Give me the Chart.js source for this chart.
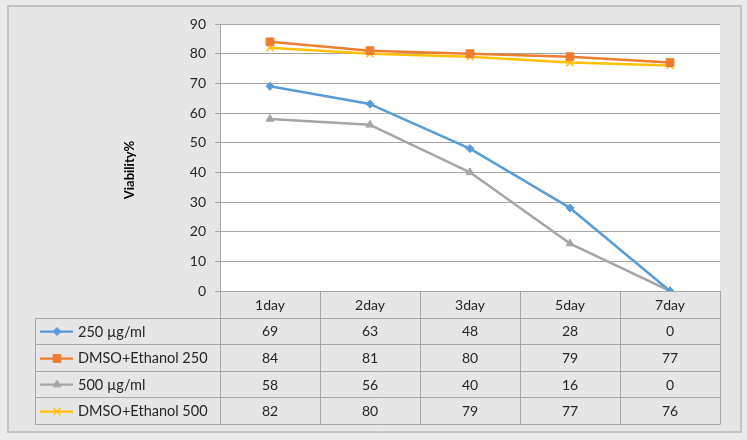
<!DOCTYPE html>
<html>
<head>
<meta charset="utf-8">
<script src="https://cdn.jsdelivr.net/npm/chart.js@4/dist/chart.umd.min.js"></script>
<style>
  html, body { margin: 0; padding: 0; background: #ebebeb; }
  #frame {
    position: absolute; left: 7px; top: 5px; width: 731px; height: 424px;
    background: #e6e6e6; border: 2px solid #c4c4c4;
  }
  #wrap { position: absolute; left: 0; top: 0; width: 747px; height: 440px; }
</style>
</head>
<body>
<div id="frame"></div>
<div id="wrap"><canvas id="viabilityChart" width="747" height="440"></canvas></div>
<script>
// categories + series
const days = ["1day", "2day", "3day", "5day", "7day"];
const seriesNames = ["250 µg/ml", "DMSO+Ethanol 250", "500 µg/ml", "DMSO+Ethanol 500"];
const conc250 = [69, 63, 48, 28, 0];
const dmso250 = [84, 81, 80, 79, 77];
const conc500 = [58, 56, 40, 16, 0];
const dmso500 = [82, 80, 79, 77, 76];
const yTicks = [0, 10, 20, 30, 40, 50, 60, 70, 80, 90];

const colors = {
  blue: "#5b9bd5",
  orange: "#ed7d31",
  grey: "#a5a5a5",
  yellow: "#ffc000"
};

const FONT = "Lato, 'Open Sans', sans-serif";
const GRID = "#a6a6a6";
const ROW_H = 26.6;

// white plot background
const plotBg = {
  id: "plotBg",
  beforeDraw(chart) {
    const { ctx, chartArea } = chart;
    ctx.save();
    ctx.fillStyle = "#ffffff";
    ctx.fillRect(chartArea.left, chartArea.top, chartArea.right - chartArea.left, chartArea.bottom - chartArea.top);
    ctx.restore();
  }
};

// data table drawn under the plot, Excel style
const dataTable = {
  id: "dataTable",
  afterDraw(chart) {
    const { ctx, chartArea, scales } = chart;
    const x = scales.x;
    const colW = (chartArea.right - chartArea.left) / days.length;
    const top = chartArea.bottom;
    const bottom = top + ROW_H * (seriesNames.length + 1);
    const legendLeft = 35;

    ctx.save();
    ctx.strokeStyle = GRID;
    ctx.lineWidth = 1;

    // horizontal lines
    ctx.beginPath();
    for (let r = 1; r <= seriesNames.length + 1; r++) {
      const y = Math.round(top + ROW_H * r) + 0.5;
      ctx.moveTo(legendLeft, y);
      ctx.lineTo(chartArea.right, y);
    }
    // vertical lines
    ctx.moveTo(legendLeft + 0.5, Math.round(top + ROW_H));
    ctx.lineTo(legendLeft + 0.5, Math.round(bottom) + 0.5);
    for (let c = 0; c <= days.length; c++) {
      const xx = Math.round(chartArea.left + colW * c) + 0.5;
      ctx.moveTo(xx, top);
      ctx.lineTo(xx, Math.round(bottom) + 0.5);
    }
    ctx.stroke();

    ctx.fillStyle = "#262626";
    ctx.font = "14px " + FONT;
    ctx.textAlign = "center";
    ctx.textBaseline = "middle";

    // header row
    days.forEach((d, i) => {
      ctx.fillText(d, x.getPixelForValue(i), top + ROW_H / 2 + 1);
    });

    // series rows
    chart.data.datasets.forEach((ds, r) => {
      const cy = top + ROW_H * (r + 1.5) + 1;
      ctx.font = "14px " + FONT;
      ctx.textAlign = "center";
      ctx.fillStyle = "#262626";
      ds.data.forEach((v, i) => {
        ctx.fillText(String(v), x.getPixelForValue(i), cy);
      });

      // legend key: line + marker
      const ky = Math.round(top + ROW_H * (r + 1.5)) + 0.5;
      ctx.strokeStyle = ds.borderColor;
      ctx.lineWidth = 2.25;
      ctx.beginPath();
      ctx.moveTo(40, ky);
      ctx.lineTo(73, ky);
      ctx.stroke();
      ctx.fillStyle = ds.borderColor;
      ctx.lineWidth = ds.pointBorderWidth || 1;
      Chart.helpers.drawPoint(ctx, {
        pointStyle: ds.pointStyle,
        radius: ds.pointRadius,
        borderWidth: ds.pointBorderWidth || 1,
        rotation: 0
      }, 57, ky);

      ctx.fillStyle = "#262626";
      ctx.textAlign = "left";
      ctx.font = "14.5px " + FONT;
      ctx.fillText(ds.label, 78, cy);
    });

    // axis title
    ctx.save();
    ctx.translate(130, 170);
    ctx.rotate(-Math.PI / 2);
    ctx.font = "bold 13px " + FONT;
    ctx.textAlign = "center";
    ctx.fillStyle = "#000";
    ctx.fillText("Viability%", 0, 0);
    ctx.restore();

    ctx.restore();
  }
};

function series(label, data, color, style, radius) {
  return {
    label: label,
    data: data,
    borderColor: color,
    backgroundColor: color,
    pointBackgroundColor: color,
    pointBorderColor: color,
    borderWidth: 2.5,
    pointStyle: style,
    pointRadius: radius,
    pointBorderWidth: style === "crossRot" ? 1.5 : 1,
    tension: 0
  };
}

const ctx = document.getElementById("viabilityChart").getContext("2d");
new Chart(ctx, {
  type: "line",
  data: {
    labels: days,
    datasets: [
      series(seriesNames[0], conc250, colors.blue, "rectRot", 4),
      series(seriesNames[1], dmso250, colors.orange, "rect", 5.5),
      series(seriesNames[2], conc500, colors.grey, "triangle", 4.5),
      series(seriesNames[3], dmso500, colors.yellow, "crossRot", 5)
    ]
  },
  options: {
    responsive: false,
    animation: false,
    layout: {
      padding: { left: 122, right: 27, top: 24, bottom: 149 }
    },
    plugins: {
      legend: { display: false },
      tooltip: { enabled: false }
    },
    scales: {
      x: {
        display: false,
        offset: true
      },
      y: {
        min: 0,
        max: 90,
        afterBuildTicks: (s) => { s.ticks = yTicks.map(v => ({ value: v })); },
        afterFit: (s) => { s.width = 98; },
        grid: {
          color: GRID,
          lineWidth: 1,
          tickLength: 5
        },
        border: { color: GRID, width: 1 },
        ticks: {
          color: "#262626",
          padding: 9,
          font: { family: FONT, size: 14 }
        }
      }
    },
    elements: {
      line: { borderJoinStyle: "round" }
    }
  },
  plugins: [plotBg, dataTable]
});
</script>
</body>
</html>
